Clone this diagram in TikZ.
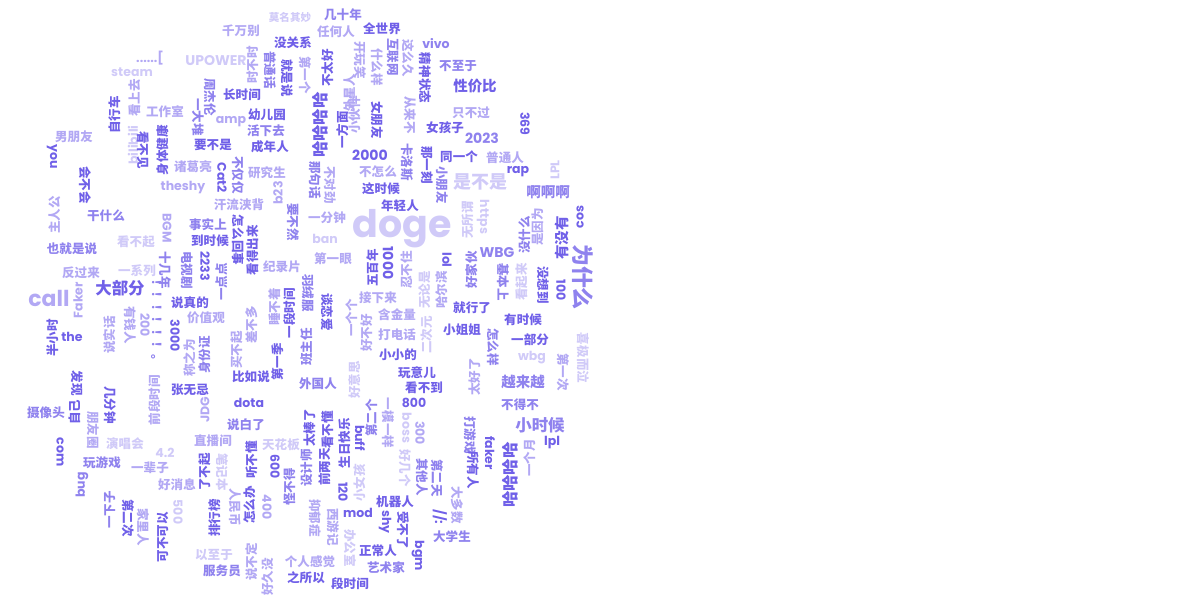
\documentclass[tikz,border=0pt]{standalone}
\usepackage{fontspec}
\newfontfamily\cjk{Noto Sans CJK SC}
\newfontfamily\lat{Poppins}
\usepackage{tikz}

\definecolor{cA}{RGB}{112,96,232}
\definecolor{cB}{RGB}{143,130,238}
\definecolor{cC}{RGB}{178,168,244}
\definecolor{cD}{RGB}{208,202,248}

\tikzset{
    word/.style={inner sep=0pt,outer sep=0pt},
    cnS/.style={word,font=\cjk\bfseries\fontsize{7.5}{7.5}\selectfont},
    cn/.style={word,font=\cjk\bfseries\fontsize{8.9}{8.9}\selectfont},
    cnM/.style={word,font=\cjk\bfseries\fontsize{10.3}{10.3}\selectfont},
    cnL/.style={word,font=\cjk\bfseries\fontsize{11.7}{11.7}\selectfont},
    cnXL/.style={word,font=\cjk\bfseries\fontsize{12.8}{12.8}\selectfont},
    cnXXL/.style={word,font=\cjk\bfseries\fontsize{15.6}{15.6}\selectfont},
    la/.style={word,font=\lat\bfseries\fontsize{8.9}{8.9}\selectfont},
    laM/.style={word,font=\lat\bfseries\fontsize{10}{10}\selectfont},
    laL/.style={word,font=\lat\bfseries\fontsize{15.6}{15.6}\selectfont},
    laXL/.style={word,font=\lat\bfseries\fontsize{27}{27}\selectfont}
}

\begin{document}
\begin{tikzpicture}[x=0.025cm,y=-0.025cm]
    \useasboundingbox (0,0) rectangle (1200,600);

    % words: x/y/rotation/style/colour/text
    \foreach \wx/\wy/\rot/\st/\col/\txt [count=\i] in {
        290/17/0/cnS/cD/莫名其妙, 343/15/0/cn/cB/几十年, 241/31/0/cn/cC/千万别,
        336/32/0/cn/cC/任何人, 382/29/0/cn/cA/全世界, 293/43/0/cn/cA/没关系,
        436/44/0/la/cB/vivo, 216/61/0/laM/cD/UPOWER, 150/58/0/la/cC/{......[},
        132/72/0/la/cD/steam, 135/98/90/cn/cC/看上去, 253/65/90/cn/cC/时不时,
        270/70/-90/cn/cB/普通话, 287/78/-90/cn/cA/就是说, 210/97/-90/cn/cB/周杰伦,
        242/95/0/cn/cA/长时间, 198/117/-90/cn/cB/一大堆, 165/112/0/cn/cC/工作室,
        267/115/0/cn/cA/幼儿园, 231/122/0/la/cC/amp, 266/131/0/cn/cB/活下去,
        213/145/0/cn/cA/要不是, 270/147/0/cn/cA/成年人, 163/150/90/cn/cA/身体健康,
        193/167/0/cn/cC/诸葛亮, 222/178/-90/la/cA/Cat2, 238/175/-90/cn/cB/不仅仅,
        267/173/0/cn/cC/研究生, 183/188/0/la/cC/theshy, 278/193/90/la/cC/b23,
        305/75/-90/cn/cC/第一个, 328/68/90/cn/cA/不太好, 360/60/-90/cn/cC/开玩笑,
        350/93/90/cn/cC/外星人, 377/67/-90/cn/cC/什么样, 393/57/-90/cn/cB/互联网,
        408/58/-90/cn/cC/这么久, 410/115/-90/cn/cC/从来不, 425/78/-90/cn/cA/精神状态,
        458/66/0/cn/cB/不至于, 475/86/0/cnM/cA/性价比, 320/125/90/cnL/cA/哈哈哈哈,
        343/130/90/cn/cA/一方面, 355/115/90/cn/cC/小伙伴, 377/120/-90/cn/cA/女朋友,
        445/128/0/cn/cA/女孩子, 407/162/-90/cn/cB/卡洛斯, 370/155/0/laM/cA/2000,
        427/165/-90/cn/cA/那一刻, 459/157/0/cn/cA/同一个, 442/185/-90/cn/cB/小朋友,
        378/172/0/cn/cC/不怎么, 381/189/0/cn/cA/这时候, 315/180/-90/cn/cB/那句话,
        330/185/-90/cn/cC/不对劲, 471/113/0/cn/cC/只不过, 525/124/-90/la/cA/369,
        482/138/0/laM/cB/2023, 505/158/0/cn/cC/普通人, 518/172/0/la/cA/rap,
        555/170/90/la/cD/LPL, 548/192/0/cnM/cB/啊啊啊, 480/182/0/cnXL/cD/是不是,
        % left part
        74/137/0/cn/cC/男朋友, 115/115/90/cn/cA/自行车, 52/157/-90/la/cA/you,
        133/145/90/la/cD/bilibili, 143/150/-90/cn/cA/看不见, 85/185/-90/cn/cA/会不会,
        55/215/90/cn/cC/主人公, 106/216/0/cn/cB/干什么, 72/249/0/cn/cB/也就是说,
        136/242/0/cn/cD/看不起, 81/273/0/cn/cC/反过来, 137/271/0/cn/cD/一系列,
        120/288/0/cnL/cA/大部分, 49/298/0/laL/cC/call, 78/300/90/la/cC/Faker,
        72/337/0/la/cA/the, 53/338/90/cn/cA/半小时, 110/335/90/cn/cC/说实话,
        130/325/-90/cn/cC/有钱人, 145/325/-90/la/cC/200, 77/383/-90/cn/cA/发现,
        110/405/-90/cn/cA/几分钟, 46/413/0/cn/cB/摄像头, 75/412/90/cn/cA/自己,
        93/430/-90/cn/cC/朋友圈, 125/444/0/cn/cD/演唱会, 60/452/-90/la/cA/com,
        102/463/0/cn/cB/玩游戏, 82/485/90/la/cB/bug, 110/510/90/cn/cB/一下子,
        128/518/-90/cn/cA/第二次, 143/527/-90/cn/cC/家里人,
        % middle left
        239/205/0/cn/cC/汗流浃背, 167/228/-90/la/cC/BGM, 208/225/0/cn/cB/事实上,
        238/240/-90/cn/cA/怎么回事, 253/250/90/cn/cA/看得出来, 293/222/-90/cn/cB/要不然,
        210/241/0/cn/cA/到时候, 165/270/-90/cn/cB/十几年, 187/270/-90/cn/cB/电视剧,
        205/266/-90/la/cA/2233, 222/282/90/cn/cB/一点点, 282/267/0/cn/cC/纪录片,
        190/303/0/cn/cA/说真的, 157/323/-90/cn/cB/！！！！！！。, 206/318/0/cn/cC/价值观,
        175/336/-90/la/cA/3000, 275/307/90/cn/cC/睡不着, 290/313/90/cn/cA/一段时间,
        252/325/90/cn/cC/差不多, 237/350/90/cn/cC/买不起, 205/355/90/cn/cB/身份证,
        190/358/90/cn/cC/称之为, 278/362/90/cn/cA/第一季, 251/377/0/cn/cA/比如说,
        190/390/0/cn/cA/张无忌, 155/400/90/cn/cC/前段时间,
        % middle
        400/206/0/cn/cA/年轻人, 327/218/0/cn/cC/一分钟, 402/229/0/laXL/cD/doge,
        325/239/0/la/cD/ban, 333/259/0/cn/cC/第一眼, 373/268/90/cn/cA/五百年,
        388/263/-90/laM/cA/1000, 308/293/-90/cn/cB/羽绒服, 327/312/-90/cn/cA/谈恋爱,
        307/347/90/cn/cB/班主任, 352/318/90/cn/cC/一个个, 378/298/0/cn/cC/接下来,
        407/270/90/cn/cC/忍不住, 425/290/90/cn/cD/无论是, 442/290/90/cn/cC/哈尔滨,
        447/260/-90/la/cA/lol, 397/315/0/cn/cC/含金量, 367/333/90/cn/cC/好不好,
        397/335/0/cn/cC/打电话, 427/335/90/cn/cD/二次元, 462/330/0/cn/cA/小姐姐,
        398/355/0/cn/cA/小小的, 355/380/90/cn/cD/好意思, 417/373/0/cn/cA/玩意儿,
        424/388/0/cn/cA/看不到, 318/384/0/cn/cB/外国人,
        % right part
        468/220/90/cn/cD/无所谓, 483/217/-90/la/cD/https, 525/235/90/cn/cB/没什么,
        538/227/90/cn/cC/是因为, 562/238/90/cnM/cA/有没有, 580/217/90/la/cA/cos,
        583/277/-90/cnXXL/cB/为什么, 497/253/0/laM/cB/WBG, 472/270/90/cn/cB/好家伙,
        503/282/-90/cn/cB/基本上, 522/282/90/cn/cD/看起来, 543/285/-90/cn/cA/没想到,
        561/290/-90/la/cA/100, 472/308/0/cn/cA/就行了, 523/320/0/cn/cA/有时候,
        530/340/0/cn/cA/一部分, 493/347/-90/cn/cB/怎么样, 475/377/90/cn/cC/太好了,
        532/358/0/la/cD/wbg, 583/358/-90/cn/cD/喜极而泣, 563/372/-90/cn/cC/第一次,
        523/382/0/cnM/cB/越来越, 520/405/0/cn/cB/不得不, 470/435/-90/cn/cB/打游戏,
        540/425/0/cnL/cB/小时候, 490/453/-90/la/cA/faker, 552/443/0/la/cA/lpl,
        530/458/90/cn/cC/一个月, 473/470/-90/cn/cA/所有人, 510/475/90/cnL/cA/哈哈哈哈,
        457/505/-90/cn/cC/大多数, 452/537/0/cn/cB/大学生,
        % lower part
        165/453/0/la/cD/4.2, 150/468/0/cn/cC/一辈子, 205/410/90/la/cC/JDG,
        249/403/0/la/cA/dota, 246/425/0/cn/cB/说白了, 213/441/0/cn/cC/直播间,
        205/472/90/cn/cA/了不起, 222/472/-90/cn/cD/笔记本, 252/460/90/cn/cA/听不懂,
        281/445/0/cn/cD/天花板, 275/467/-90/la/cA/600, 290/487/90/cn/cB/怪不得,
        177/485/0/cn/cC/好消息, 178/512/-90/la/cD/500, 163/537/90/cn/cA/可不可以,
        215/518/90/cn/cA/排行榜, 235/507/-90/cn/cC/人民币, 250/505/90/cn/cA/怎么办,
        267/507/-90/la/cC/400, 214/555/0/cn/cD/以至于, 222/571/0/cn/cB/服务员,
        252/562/90/cn/cC/说不定, 268/577/90/cn/cC/好久没, 414/403/0/la/cA/800,
        372/418/90/cn/cB/第二个, 388/423/-90/cn/cC/一模一样, 407/428/-90/la/cD/boss,
        420/433/-90/la/cC/300, 310/428/90/cn/cA/太棒了, 328/430/90/cn/cA/看不懂,
        345/443/90/cn/cA/生日快乐, 360/438/-90/la/cA/buff, 307/468/90/cn/cB/设计师,
        325/467/90/cn/cA/前两天, 343/492/-90/la/cA/120, 360/483/90/cn/cD/小女孩,
        422/477/-90/cn/cB/其他人, 405/468/-90/cn/cD/好几个, 437/478/-90/cn/cB/第二天,
        395/502/0/cn/cA/机器人, 358/513/0/la/cA/mod, 385/522/-90/la/cA/shy,
        403/530/-90/cn/cA/受不了, 440/517/-90/la/cA/{//:}, 315/518/-90/cn/cC/抑郁症,
        333/527/-90/cn/cC/西游记, 350/548/-90/cn/cD/办公室, 378/551/0/cn/cA/正常人,
        418/556/-90/la/cA/bgm, 386/568/0/cn/cB/艺术家, 310/562/0/cn/cC/个人感觉,
        306/578/0/cn/cA/之所以, 350/584/0/cn/cA/段时间}
    {
        \node[\st,text=\col,rotate=\rot] (w\i) at (\wx,\wy) {\txt};
    }
\end{tikzpicture}
\end{document}
